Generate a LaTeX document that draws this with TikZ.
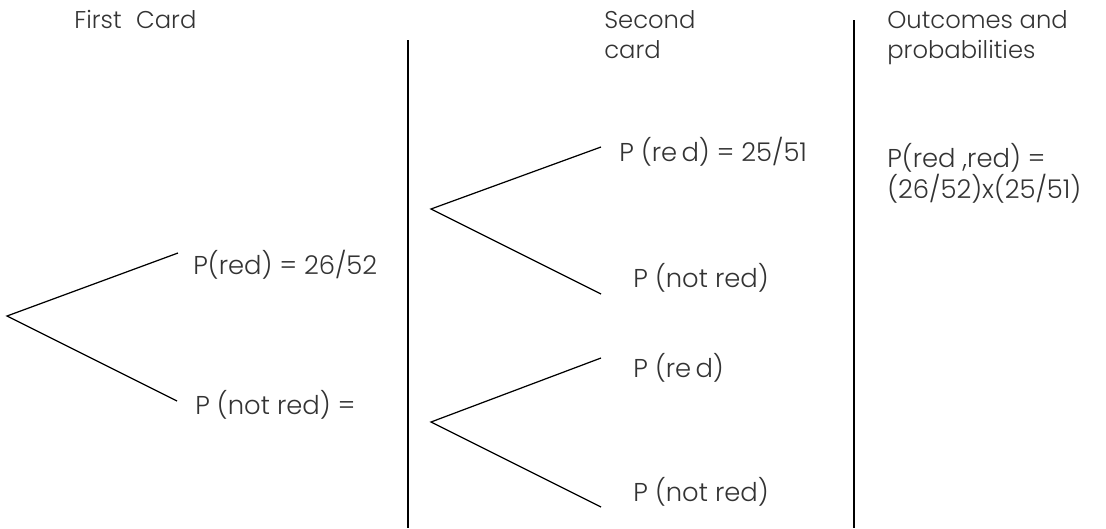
\documentclass[tikz,border=0pt]{standalone}
\usepackage{fontspec}
\setmainfont{Poppins}[UprightFont={* Light}]
\usepackage{tikz}
\usetikzlibrary{positioning}

\begin{document}
\begin{tikzpicture}[
    x=0.02cm, y=-0.02cm,
    txt/.style={anchor=north west, inner sep=0pt, align=left, text=black!80, font=\fontsize{14.7}{17}\selectfont},
    head/.style={txt, font=\fontsize{13.8}{17}\selectfont},
    tight/.style={txt, font=\fontsize{14.7}{12.5}\selectfont},
    branch/.style={line width=0.7pt},
    divider/.style={line width=0.8pt}
]
\useasboundingbox (0,0) rectangle (1106,528);

% column headings
\node[head] (first) at (74,10) {First\hspace{0.6em}Card};
\node[head] (second) at (604,10) {Second\\card};
\node[head] (outcomes) at (887,10) {Outcomes and\\probabilities};

% dividers
\coordinate (div1top) at (408,40);
\coordinate (div1bot) at (408,528);
\coordinate (div2top) at (854,20);
\coordinate (div2bot) at (854,528);
\draw[divider] (div1top) -- (div1bot);
\draw[divider] (div2top) -- (div2bot);

% first card
\coordinate (root1) at (7,316);
\coordinate (up1) at (178,253);
\coordinate (dn1) at (177,401);
\draw[branch] (up1) -- (root1) -- (dn1);
\node[txt] (red1) at (193,250) {P(red) = 26/52};
\node[txt] (notred1) at (195,390) {P (not red) =};

% second card, after red
\coordinate (root2) at (431,209);
\coordinate (up2) at (601,147);
\coordinate (dn2) at (601,294);
\draw[branch] (up2) -- (root2) -- (dn2);
\node[txt] (red2) at (619,137) {P (re\,d) = 25/51};
\node[txt] (notred2) at (633,263) {P (not red)};

% second card, after not red
\coordinate (root3) at (431,422);
\coordinate (up3) at (601,358);
\coordinate (dn3) at (601,507);
\draw[branch] (up3) -- (root3) -- (dn3);
\node[txt] (red3) at (633,353) {P (re\,d)};
\node[txt] (notred3) at (633,477) {P (not red)};

% outcome
\node[tight] (redred) at (887,143) {P(red ,red) =\\(26/52)x(25/51)};

\end{tikzpicture}
\end{document}
